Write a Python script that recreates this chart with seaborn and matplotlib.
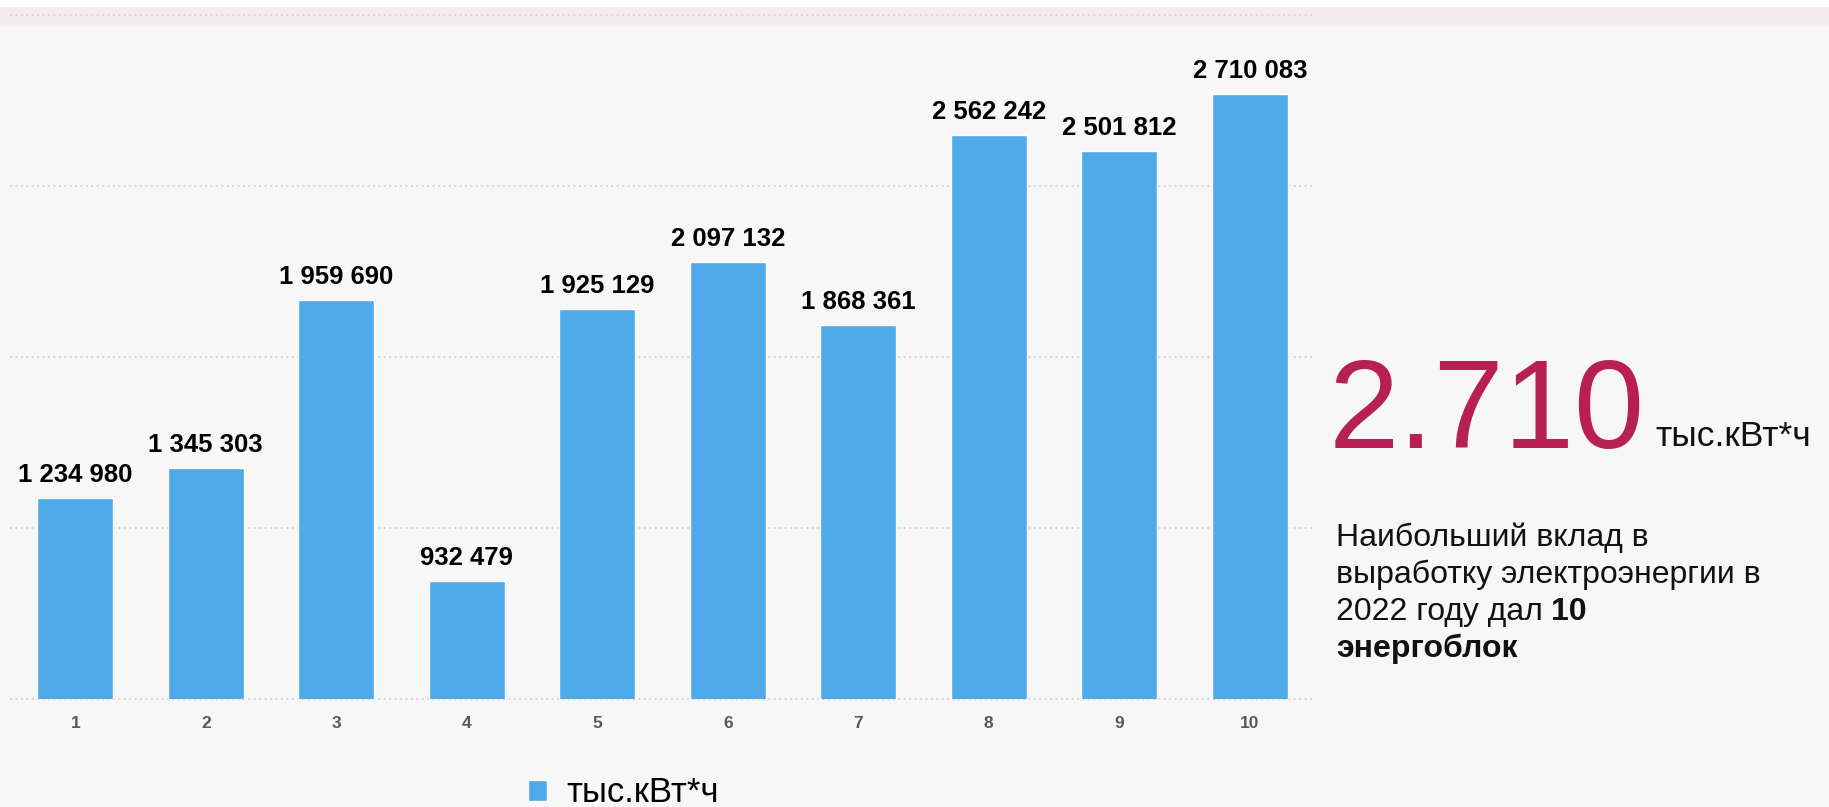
import numpy as np
import pandas as pd
import matplotlib.pyplot as plt
import matplotlib.patches as mpatches
import seaborn as sns

units = ['1', '2', '3', '4', '5', '6', '7', '8', '9', '10']
output = [1234980, 1345303, 1959690, 932479, 1925129,
          2097132, 1868361, 2562242, 2501812, 2710083]
y_ticks = [500000, 1125000, 1750000, 2375000, 3000000]
series_name = 'тыс.кВт*ч'
big_number = '2.710'
note_lines = ['Наибольший вклад в', 'выработку электроэнергии в', '2022 году дал']
note_bold = ['10', 'энергоблок']

bg = '#f7f7f7'
bar_color = '#4eaae8'
accent = '#b82055'

sns.set_theme(style='white')
plt.rcParams['font.family'] = ['Liberation Sans', 'DejaVu Sans']

W, H = 1829, 807
fig = plt.figure(figsize=(W / 100, H / 100), dpi=100, facecolor=bg)
# thin pink strip at the very top (behind the axes)
fig.patches.append(mpatches.Rectangle((0, 1 - 25 / H), 1, 19 / H, color='#f4ebee',
                                      transform=fig.transFigure, zorder=-2))
fig.patches.append(mpatches.Rectangle((0, 1 - 6 / H), 1, 6 / H, color='white',
                                      transform=fig.transFigure, zorder=-2))

ax = fig.add_axes([10 / W, 1 - 699 / H, 1305 / W, 684 / H])
ax.set_facecolor('none')

df = pd.DataFrame({'unit': units, 'value': output})
sns.barplot(data=df, x='unit', y='value', color=bar_color, width=0.58,
            saturation=1, ax=ax, label=series_name, zorder=3)

ax.set_xlim(-0.5, 9.5)
ax.set_ylim(y_ticks[0], y_ticks[-1])
ax.set_yticks(y_ticks)
ax.set_yticklabels([])
ax.set_xlabel('')
ax.set_ylabel('')
for yv in y_ticks:
    ax.axhline(yv, color='#d8d8d8', linewidth=1.5, linestyle=(0, (1, 1.6)),
               clip_on=False, zorder=1)
sns.despine(ax=ax, left=True, bottom=True)
ax.tick_params(axis='both', length=0)
ax.tick_params(axis='x', pad=12, labelsize=12.5, labelcolor='#595959')
for t in ax.get_xticklabels():
    t.set_fontweight('bold')

labels = [f'{v:,}'.replace(',', ' ') for v in output]
ax.bar_label(ax.containers[0], labels=labels, padding=8, fontsize=18.5,
             fontweight='bold', color='black')

leg = ax.legend(loc='center left', bbox_to_anchor=(528 / W, 1 - 793 / H),
                bbox_transform=fig.transFigure, frameon=False, fontsize=25,
                handlelength=0.55, handleheight=0.55, handletextpad=0.55,
                borderpad=0, borderaxespad=0)
for t in leg.get_texts():
    t.set_color('black')

# right-hand summary
fig.text(1329 / W, 1 - 448 / H, big_number, fontsize=91, color=accent,
         ha='left', va='baseline')
fig.text(1655 / W, 1 - 446 / H, series_name, fontsize=25.5, color='#111111',
         ha='left', va='baseline')

baselines = [546, 583, 620, 657]
for line, yb in zip(note_lines, baselines):
    t = fig.text(1336 / W, 1 - yb / H, line, fontsize=23, color='#111111',
                 ha='left', va='baseline')
ax.annotate(note_bold[0], xy=(1, 0), xycoords=t, xytext=(6, 0),
            textcoords='offset points', fontsize=23, fontweight='bold',
            color='#111111', ha='left', va='bottom')
fig.text(1336 / W, 1 - baselines[3] / H, note_bold[1], fontsize=23,
         fontweight='bold', color='#111111', ha='left', va='baseline')

fig.savefig('out.png', dpi=100, facecolor=bg)
